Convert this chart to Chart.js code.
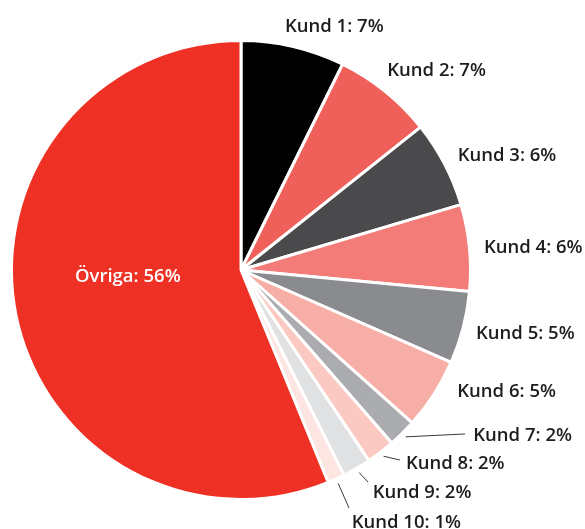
<!DOCTYPE html>
<html>
<head>
<meta charset="utf-8">
<script src="https://cdn.jsdelivr.net/npm/chart.js@4/dist/chart.umd.min.js"></script>
<style>
  html, body { margin: 0; padding: 0; background: #ffffff; }
  #wrap { width: 585px; height: 529px; }
</style>
</head>
<body>
<div id="wrap"><canvas id="c" width="585" height="529"></canvas></div>
<script>
// ---- data ----
const categories = ["Kund 1", "Kund 2", "Kund 3", "Kund 4", "Kund 5", "Kund 6", "Kund 7", "Kund 8", "Kund 9", "Kund 10", "Övriga"];
const shares = [7.3, 7.0, 6.1, 6.1, 5.1, 5.0, 2.0, 2.0, 2.0, 1.2, 56.2];
const sliceColors = ["#000000", "#F0605A", "#4A494B", "#F37C78", "#898B8E", "#F7AEA6", "#ABACAF", "#FBC8C2", "#E0E1E3", "#FDE6E1", "#EE3124"];

// ---- label layout (styling only) ----
const labelLayout = [
  { mode: 'out', text: [-11.6, -0.2] },
  { mode: 'out', text: [-7.2, -3.7] },
  { mode: 'out', text: [-0.1, 4] },
  { mode: 'out', text: [-0.4, 6.5] },
  { mode: 'out', text: [-1.6, 7.5] },
  { mode: 'out', text: [10.7, -5] },
  { mode: 'leader', line: [52.2, -10], text: [60.5, -3] },
  { mode: 'leader', line: [10.3, -4.1], text: [16.3, 5.2] },
  { mode: 'leader', line: [3.9, 0.8], text: [8.6, 17.1] },
  { mode: 'leader', line: [6.7, 15.5], text: [9.4, 35.8] },
  { mode: 'in', text: [-0.6, -10.2] }
];

const labelPlugin = {
  id: 'sliceLabels',
  afterDatasetsDraw(chart) {
    const ctx = chart.ctx;
    const meta = chart.getDatasetMeta(0);
    const vals = chart.data.datasets[0].data;
    ctx.save();
    ctx.font = '600 18.5px "Open Sans", "Noto Sans", sans-serif';
    ctx.textBaseline = 'alphabetic';
    meta.data.forEach((arc, i) => {
      const p = arc.getProps(['x', 'y', 'startAngle', 'endAngle', 'outerRadius'], true);
      const mid = (p.startAngle + p.endAngle) / 2;
      const cos = Math.cos(mid), sin = Math.sin(mid);
      const lay = labelLayout[i];
      const txt = chart.data.labels[i] + ': ' + Math.round(vals[i]) + '%';
      if (lay.mode === 'in') {
        const r = p.outerRadius * 0.5;
        ctx.fillStyle = '#ffffff';
        ctx.textAlign = 'center';
        ctx.fillText(txt, p.x + cos * r + lay.text[0], p.y + sin * r + lay.text[1]);
        return;
      }
      const ra = p.outerRadius + 15;
      const ax = p.x + cos * ra, ay = p.y + sin * ra;
      if (lay.mode === 'leader') {
        const rs = p.outerRadius + 5;
        ctx.beginPath();
        ctx.strokeStyle = '#3a3a3a';
        ctx.lineWidth = 1;
        ctx.moveTo(p.x + cos * rs, p.y + sin * rs);
        ctx.lineTo(ax + lay.line[0], ay + lay.line[1]);
        ctx.stroke();
      }
      ctx.fillStyle = '#1d1d1b';
      ctx.textAlign = 'left';
      ctx.fillText(txt, ax + lay.text[0], ay + lay.text[1]);
    });
    ctx.restore();
  }
};

new Chart(document.getElementById('c'), {
  type: 'pie',
  data: {
    labels: categories,
    datasets: [{
      data: shares,
      backgroundColor: sliceColors,
      borderColor: '#ffffff',
      borderWidth: 3
    }]
  },
  options: {
    responsive: false,
    animation: false,
    layout: { padding: { left: 10, top: 39, right: 113, bottom: 28 } },
    plugins: {
      legend: { display: false },
      tooltip: { enabled: false }
    }
  },
  plugins: [labelPlugin]
});
</script>
</body>
</html>
